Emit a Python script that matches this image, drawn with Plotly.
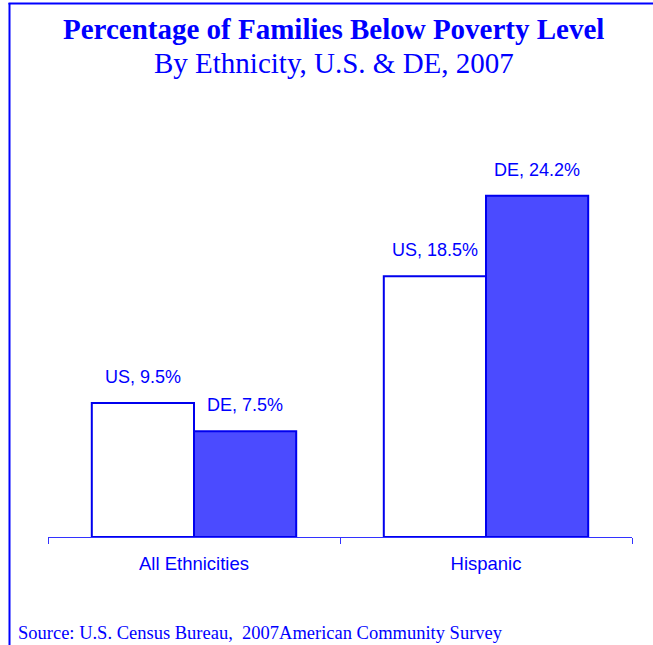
import plotly.graph_objects as go

categories = ["All Ethnicities", "Hispanic"]
series_names = ["US", "DE"]
us_values = [9.5, 18.5]
de_values = [7.5, 24.2]

BLUE = "#0000FF"
EDGE = "#0000EE"
FILL_DE = "#4B4BFF"

W, H = 653, 645
ML, MR, MT, MB = 48, 21, 114, 108
PW, PH = W - ML - MR, H - MT - MB

def px(x):
    return (x - ML) / PW

def py(y):
    return (H - MB - y) / PH

fig = go.Figure()
fig.add_trace(go.Bar(name=series_names[0], x=categories, y=us_values,
                     marker=dict(color="white", line=dict(color=EDGE, width=2))))
fig.add_trace(go.Bar(name=series_names[1], x=categories, y=de_values,
                     marker=dict(color=FILL_DE, line=dict(color=EDGE, width=2))))

bargap = 0.3
half = (1 - bargap) / 4
annotations = []
for i, cat in enumerate(categories):
    for name, vals, off in ((series_names[0], us_values, -half), (series_names[1], de_values, half)):
        annotations.append(dict(x=i + off, y=vals[i], xref="x", yref="y",
                                text=f"{name}, {vals[i]}%", showarrow=False,
                                yanchor="middle", yshift=26,
                                font=dict(family="Liberation Sans, Arial", size=18, color=BLUE)))

annotations += [
    dict(x=px(333), y=py(29), xref="paper", yref="paper", showarrow=False,
         text="<b>Percentage of Families Below Poverty Level</b>",
         font=dict(family="Liberation Serif, Times New Roman", size=29, color=BLUE),
         xanchor="center", yanchor="middle"),
    dict(x=px(334), y=py(63), xref="paper", yref="paper", showarrow=False,
         text="By Ethnicity, U.S. &amp; DE, 2007",
         font=dict(family="Liberation Serif, Times New Roman", size=29, color=BLUE),
         xanchor="center", yanchor="middle"),
    dict(x=px(16), y=py(633), xref="paper", yref="paper", showarrow=False,
         text="Source: U.S. Census Bureau,  2007American Community Survey",
         font=dict(family="Liberation Serif, Times New Roman", size=18.5, color=BLUE),
         xanchor="left", yanchor="middle"),
]

shapes = [
    dict(type="line", xref="paper", yref="paper", x0=px(9.5), x1=px(9.5), y0=py(3), y1=py(H + 2),
         line=dict(color=BLUE, width=2)),
    dict(type="line", xref="paper", yref="paper", x0=px(8.5), x1=px(W + 2), y0=py(3.5), y1=py(3.5),
         line=dict(color=BLUE, width=2)),
]

fig.update_layout(
    width=W, height=H,
    margin=dict(l=ML, r=MR, t=MT, b=MB, pad=0),
    paper_bgcolor="white", plot_bgcolor="white",
    barmode="group", bargap=bargap, bargroupgap=0,
    showlegend=False,
    annotations=annotations, shapes=shapes,
    xaxis=dict(showline=True, linecolor="#3333FF", linewidth=1,
               ticks="outside", tickson="boundaries", ticklen=6, tickcolor="#3333FF",
               ticklabelstandoff=10,
               tickfont=dict(family="Liberation Sans, Arial", size=18.5, color=BLUE),
               showgrid=False, zeroline=False, fixedrange=True),
    yaxis=dict(range=[0, 30], visible=False, showgrid=False, zeroline=False),
)

fig.write_html("out.html", config={"displayModeBar": False},
               post_script="document.body.style.margin='0';document.body.style.overflow='hidden';")
